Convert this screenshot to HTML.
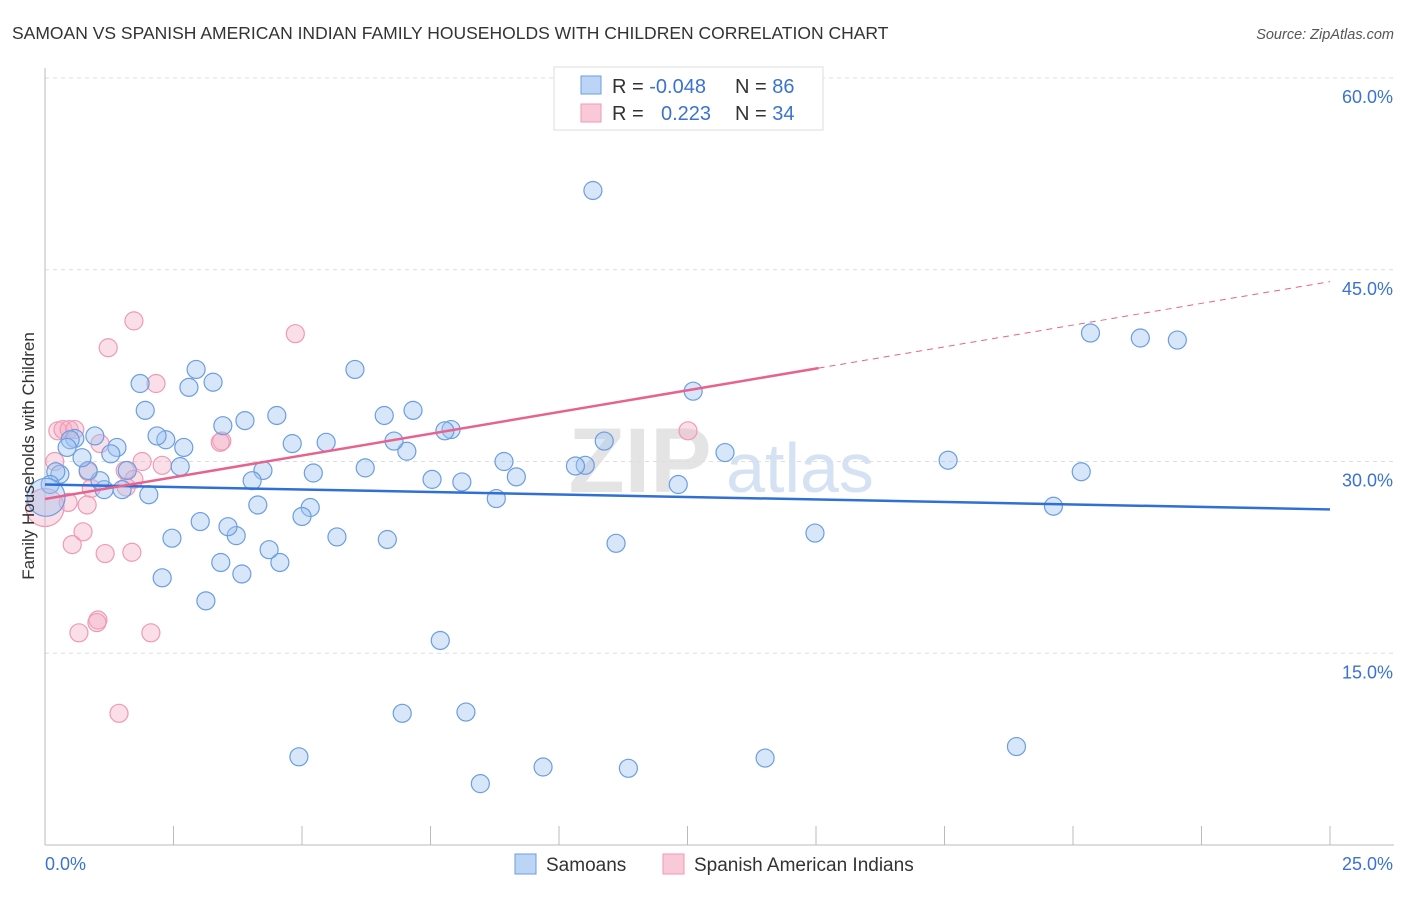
<!DOCTYPE html>
<html><head><meta charset="utf-8"><style>
body{margin:0;background:#fff;font-family:"Liberation Sans",sans-serif;}
svg text{font-family:"Liberation Sans",sans-serif;}
</style></head><body>
<svg id="chart" width="1406" height="892">
<text x="12" y="39" font-size="17.5" fill="#333">SAMOAN VS SPANISH AMERICAN INDIAN FAMILY HOUSEHOLDS WITH CHILDREN CORRELATION CHART</text>
<text x="1394" y="39" font-size="14.5" fill="#555" text-anchor="end" font-style="italic">Source: ZipAtlas.com</text>
<text x="640" y="492" font-size="92" fill="#e4e4e4" font-family="Liberation Serif" font-weight="bold" text-anchor="middle">ZIP</text>
<text x="800" y="492" font-size="70" fill="#d5e2f3" text-anchor="middle">atlas</text>
<g id="grid"></g><g id="axes"></g><g id="pts"></g><g id="lines"></g>
<text transform="translate(34,456) rotate(-90)" font-size="17" fill="#333" text-anchor="middle">Family Households with Children</text>
<g>
<rect x="554" y="67" width="269" height="63" fill="#fff" stroke="#ddd"/>
<rect x="581" y="76" width="20" height="18" fill="#bcd4f5" stroke="#6b9ee0"/>
<rect x="581" y="104" width="20" height="18" fill="#f9c9d8" stroke="#ef9ab5"/>
<text x="612" y="93" font-size="20" fill="#333">R = <tspan fill="#3a73d0">-0.048</tspan><tspan x="735">N = </tspan><tspan fill="#3a73d0">86</tspan></text>
<text x="612" y="120" font-size="20" fill="#333">R = <tspan x="661" fill="#3a73d0">0.223</tspan><tspan x="735">N = </tspan><tspan fill="#3a73d0">34</tspan></text>
</g>
<g>
<rect x="515" y="854" width="21" height="20" fill="#bcd4f5" stroke="#6b9ee0"/>
<text x="546" y="871" font-size="19" fill="#333">Samoans</text>
<rect x="663" y="854" width="21" height="20" fill="#f9c9d8" stroke="#ef9ab5"/>
<text x="694" y="871" font-size="19" fill="#333">Spanish American Indians</text>
</g>
</svg>
<script>
const blueX=[10.66,20.34,21.31,22.03,12.61,13.23,17.57,20.16,19.62,14.98,12.32,11.11,10.88,10.51,10.32,9.17,8.93,8.78,8.11,7.9,7.78,7.53,7.16,7.04,6.79,6.6,6.66,6.23,6.03,5.68,5.47,5.22,5.16,5.0,4.81,4.51,4.24,4.14,4.03,4.57,4.36,3.89,3.83,3.72,3.56,3.42,3.46,3.27,2.94,2.8,3.13,3.02,2.7,2.63,2.47,2.35,2.18,2.28,2.02,1.95,1.85,1.6,1.5,1.4,1.28,1.15,1.07,0.97,0.84,0.72,0.58,0.49,0.43,0.29,0.21,0.1,7.69,6.95,8.19,4.94,9.69,11.35,14.01,18.9,8.47,0.02];
const blueY=[51.2,40.05,39.66,39.5,35.5,30.7,30.1,29.2,26.5,24.4,28.2,23.6,31.6,29.7,29.65,28.8,30.0,27.1,28.4,32.5,32.4,28.6,34.0,30.8,31.6,33.6,23.9,29.5,37.2,24.1,31.5,29.1,26.4,25.7,31.4,33.6,29.3,26.6,28.5,22.1,23.1,33.2,21.2,24.2,24.9,22.1,32.8,36.2,37.2,35.8,19.1,25.3,31.1,29.6,24.0,31.7,32.0,20.9,27.4,34.0,36.1,29.3,27.8,31.1,30.6,27.8,28.5,32.0,29.3,30.3,31.8,31.7,31.1,29.0,29.2,28.2,16.0,10.3,10.4,6.9,6.1,6.0,6.8,7.7,4.8,27.2];
const pinkX=[1.73,4.87,1.23,2.16,12.51,3.44,3.41,0.25,0.35,0.47,0.58,1.07,2.28,1.89,0.19,0.84,1.56,1.73,1.58,0.9,0.45,0.82,0.74,0.53,1.17,1.69,1.03,1.01,0.66,2.06,1.44,0.0];
const pinkY=[41.0,40.0,38.9,36.1,32.4,31.6,31.5,32.4,32.5,32.5,32.5,31.4,29.7,30.0,30.0,29.2,29.3,28.6,28.0,27.9,26.8,26.6,24.5,23.5,22.8,22.9,17.6,17.4,16.6,16.6,10.3,26.4];
const blueTrend=[28.2,26.25];
const pinkTrend=[27.07,0.68];
const yTicks=[15,30,45,60];
const xTickCount=10;
const NS="http://www.w3.org/2000/svg";
const X0=45,X1=1330,YB=845,YT=78;
const sx=v=>X0+(X1-X0)*v/25;
const sy=v=>YB-(YB-YT)*v/60;
function mk(tag,attrs,parent){const e=document.createElementNS(NS,tag);for(const k in attrs)e.setAttribute(k,attrs[k]);document.getElementById(parent).appendChild(e);return e;}
yTicks.forEach(t=>{
 const g=mk('line',{x1:X0,x2:1394,y1:sy(t),y2:sy(t),stroke:'#ddd','stroke-dasharray':'4,4'},'grid');
 
 
 const tx=mk('text',{x:1393,y:sy(t)+25,'font-size':18,fill:'#3a73d0','text-anchor':'end'},'grid');
 tx.textContent=t.toFixed(1)+'%';
 
 
});
const ax=mk('line',{x1:X0,x2:X0,y1:68,y2:YB,stroke:'#bbb'},'axes');


const bx=mk('line',{x1:X0,x2:1394,y1:YB,y2:YB,stroke:'#bbb'},'axes');


for(let i=1;i<=xTickCount;i++){
 const tk=mk('line',{x1:sx(i*2.5),x2:sx(i*2.5),y1:826,y2:YB,stroke:'#bbb'},'axes');
 
 
}
const l0=mk('text',{x:45,y:870,'font-size':18,fill:'#3a73d0'},'axes');l0.textContent='0.0%';


const l1=mk('text',{x:1393,y:870,'font-size':18,fill:'#3a73d0','text-anchor':'end'},'axes');l1.textContent='25.0%';


function pts(xs,ys,fill,stroke,name){
 xs.forEach((x,i)=>{
  const big=x<0.05;
  const c=mk('circle',{cx:sx(x),cy:sy(ys[i]),r:big?19:9,fill:fill,stroke:stroke,'stroke-width':1.2},'pts');
  
  
 });
}
pts(pinkX,pinkY,'rgba(245,170,195,0.38)','#ef9ab5','point-spanish-american-indian');
pts(blueX,blueY,'rgba(160,196,240,0.42)','#6b9ee0','point-samoan');
const bl=mk('line',{x1:sx(0),y1:sy(blueTrend[0]),x2:sx(25),y2:sy(blueTrend[1]),stroke:'#2f6fd6','stroke-width':2.5},'lines');


const pf=x=>pinkTrend[0]+pinkTrend[1]*x;
const pl=mk('line',{x1:sx(0),y1:sy(pf(0)),x2:sx(15.05),y2:sy(pf(15.05)),stroke:'#e8628e','stroke-width':2.5},'lines');


const pd=mk('line',{x1:sx(15.05),y1:sy(pf(15.05)),x2:sx(25),y2:sy(pf(25)),stroke:'#e8628e','stroke-width':1,'stroke-dasharray':'6,5'},'lines');


</script>
</body></html>
